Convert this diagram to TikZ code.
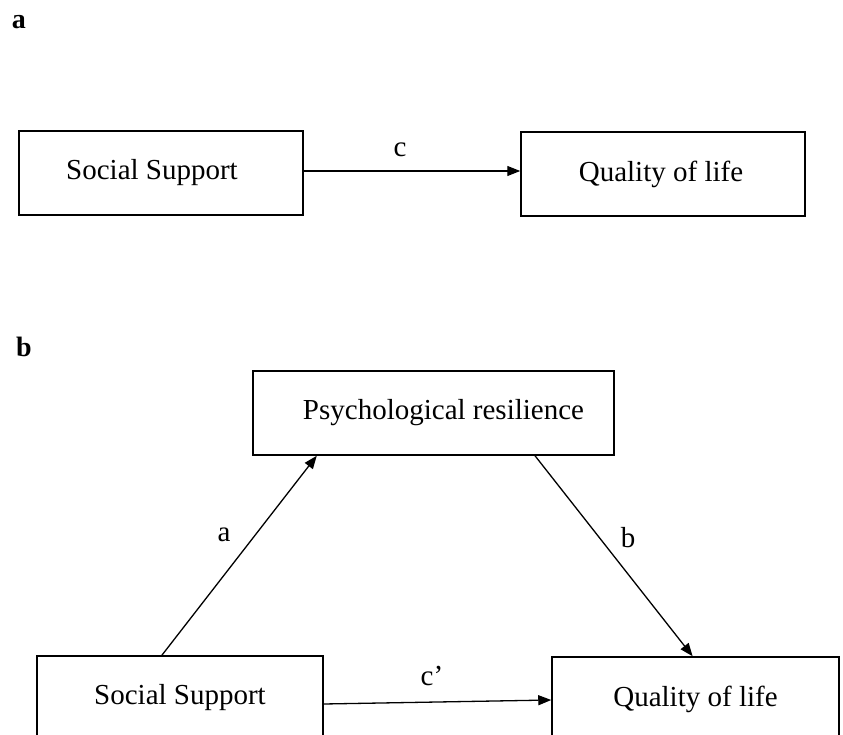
\documentclass[tikz,border=0pt]{standalone}
\usepackage{fontspec}
\setmainfont{Liberation Serif}
\usetikzlibrary{arrows.meta,calc}
\tikzset{
  boxnode/.style={draw, line width=1.5pt, rectangle, inner sep=0pt, minimum height=84pt, font=\fontsize{29}{34}\selectfont},
  arr/.style={line width=1.3pt, -{Triangle[length=13pt,width=10pt]}},
  lbl/.style={inner sep=0pt, font=\fontsize{29}{34}\selectfont},
  panel/.style={inner sep=0pt, font=\bfseries\fontsize{28}{32}\selectfont}
}
\begin{document}
\begin{tikzpicture}[x=1pt,y=-1pt]
\useasboundingbox (0,0) rectangle (843,735);
\clip (0,0) rectangle (843,735);
% panel labels
\node[panel] (pa) at (19,22) {a};
\node[panel] (pb) at (24,347) {b};
% panel a
\node[boxnode, minimum width=284pt] (ss1) at (161,173) {Social Support\hspace*{18pt}};
\node[boxnode, minimum width=284pt] (ql1) at (663,174) {Quality of life\hspace*{4pt}};
\draw[arr] ($(ss1.east)+(0,-2)$) -- ($(ql1.west)+(0,-3)$);
\node[lbl] (lc) at (400,150) {c};
% panel b
\node[boxnode, minimum width=361pt] (psy) at (433.5,413) {\hspace*{20pt}Psychological resilience};
\node[boxnode, minimum width=286pt] (ss2) at (180,698) {Social Support};
\node[boxnode, minimum width=287pt] (ql2) at (695.5,699) {Quality of life};
\draw[arr] ($(ss2.north west)!0.437!(ss2.north east)$) -- ($(psy.south west)!0.178!(psy.south east)$);
\draw[arr] ($(psy.south west)!0.78!(psy.south east)$) -- ($(ql2.north west)!0.49!(ql2.north east)$);
\draw[arr] ($(ss2.east)+(0,6)$) -- ($(ql2.west)+(0,1)$);
\node[lbl] (la) at (224,535) {a};
\node[lbl] (lb) at (628,538) {b};
\node[lbl] (lcp) at (432,676) {c’};
\end{tikzpicture}
\end{document}
